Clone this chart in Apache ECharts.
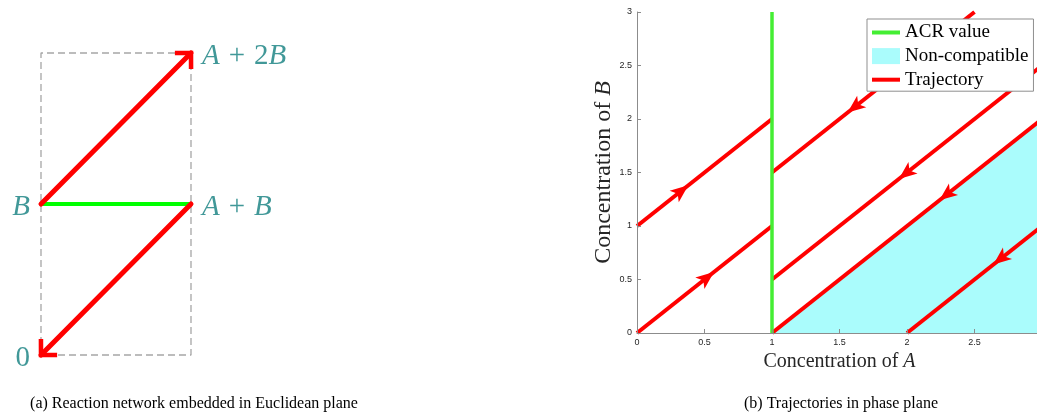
<!DOCTYPE html>
<html><head><meta charset="utf-8">
<script src="https://cdn.jsdelivr.net/npm/echarts@6/dist/echarts.min.js"></script>
<style>html,body{margin:0;padding:0;background:#fff}#c{width:1037px;height:413px}</style>
</head><body><div id="c"></div>
<script>
// ---------- panel (a): reaction network in the (A, B) lattice ----------
const nodeNames = ['0', 'B', 'A+B', 'A+2B'];
const nodeA = [0, 0, 1, 1];
const nodeB = [0, 1, 1, 2];
const reactionEdges = [['B', 'A+2B'], ['A+B', '0']];
const acrEdges = [['B', 'A+B']];

// ---------- panel (b): phase plane ----------
const xTicks = [0, 0.5, 1, 1.5, 2, 2.5, 3];
const yTicks = [0, 0.5, 1, 1.5, 2, 2.5, 3];
const acrValue = 1;
const trajStart = [[0, 0], [0, 1], [1, 0.5], [1, 1.5], [1, 0], [2, 0]];
const trajEnd = [[1, 1], [1, 2], [3, 2.5], [2.5, 3], [3, 2], [3, 1]];
const arrowPos = [[0.57, 0.57], [0.38, 1.38], [1.94, 1.44], [1.56, 2.06], [2.24, 1.24], [2.64, 0.64]];
const arrowDir = [1, 1, -1, -1, -1, -1];
const nonCompatible = [[1, 0], [3, 2]];
const captions = ['(a) Reaction network embedded in Euclidean plane', '(b) Trajectories in phase plane'];

const serif = 'Liberation Serif';
const teal = '#117e7e';
const red = '#ff0000';
const cyan = '#aafcfc';
const green = '#44ee33';

const idx = n => nodeNames.indexOf(n);
const pt = n => [nodeA[idx(n)], nodeB[idx(n)]];
const minA = Math.min(...nodeA), maxA = Math.max(...nodeA);
const minB = Math.min(...nodeB), maxB = Math.max(...nodeB);
const boxPts = [[minA, minB], [minA, maxB], [maxA, maxB], [maxA, minB], [minA, minB]];

const chevron = 'path://M0,-3.18L12.89,9.71L9.71,12.89L0,3.18L-9.71,12.89L-12.89,9.71ZM0,-12.89L0.01,-12.89Z';

function nodeLabel(name) {
  return name.split('').map(ch => ch === '+' ? '{o|+}' : (/[A-Z]/.test(ch) ? '{i|' + ch + '}' : '{n|' + ch + '}')).join('');
}

const chart = echarts.init(document.getElementById('c'), null, {renderer: 'canvas'});

const trajSeries = trajStart.map((s, i) => ({
  type: 'line', name: 'Trajectory', xAxisIndex: 0, yAxisIndex: 0,
  data: [s, trajEnd[i]], symbol: 'none', silent: true,
  lineStyle: {color: red, width: 4}, itemStyle: {color: red}, z: 3
}));

const option = {
  backgroundColor: '#fff',
  animation: false,
  grid: [
    {left: 637, top: 12, width: 405, height: 321, outerBoundsMode: 'none'},
    {left: 41, top: 53, width: 150, height: 302, outerBoundsMode: 'none'}
  ],
  xAxis: [
    {
      type: 'value', gridIndex: 0, min: xTicks[0], max: xTicks[xTicks.length - 1], interval: xTicks[1] - xTicks[0],
      axisLine: {show: true, lineStyle: {color: '#8c8c8c', width: 1}},
      axisTick: {show: true, inside: true, length: 4, lineStyle: {color: '#8c8c8c'}},
      axisLabel: {color: '#262626', fontSize: 9, fontFamily: 'Liberation Sans', margin: 5, showMaxLabel: false},
      splitLine: {show: false},
      name: '{r|Concentration of }{i|A}', nameLocation: 'middle', nameGap: 17,
      nameTextStyle: {rich: {
        r: {fontFamily: serif, fontSize: 20, color: '#262626'},
        i: {fontFamily: serif, fontStyle: 'italic', fontSize: 20, color: '#262626'}}},
      z: 10
    },
    {type: 'value', gridIndex: 1, min: minA, max: maxA, show: false}
  ],
  yAxis: [
    {
      type: 'value', gridIndex: 0, min: yTicks[0], max: yTicks[yTicks.length - 1], interval: yTicks[1] - yTicks[0],
      axisLine: {show: true, lineStyle: {color: '#8c8c8c', width: 1}},
      axisTick: {show: true, inside: true, length: 4, lineStyle: {color: '#8c8c8c'}},
      axisLabel: {color: '#262626', fontSize: 9, fontFamily: 'Liberation Sans', margin: 5},
      splitLine: {show: false},
      name: '{r|Concentration of }{i|B}', nameLocation: 'middle', nameGap: 15, nameRotate: 90,
      nameTextStyle: {rich: {
        r: {fontFamily: serif, fontSize: 24, color: '#262626'},
        i: {fontFamily: serif, fontStyle: 'italic', fontSize: 24, color: '#262626'}}},
      z: 10
    },
    {type: 'value', gridIndex: 1, min: minB, max: maxB, show: false}
  ],
  legend: {
    orient: 'vertical', left: 867, top: 19, padding: [4, 5, 2, 5],
    itemWidth: 28, itemHeight: 16, itemGap: 4.6, symbolKeepAspect: true,
    borderColor: '#8f8f8f', borderWidth: 1, backgroundColor: '#fff',
    selectedMode: false, z: 10,
    itemStyle: {borderWidth: 0},
    textStyle: {fontFamily: serif, fontSize: 19, color: '#000'},
    data: [
      {name: 'ACR value', icon: 'path://M0,0H28V4H0Z'},
      {name: 'Non-compatible', icon: 'rect', itemStyle: {color: cyan}},
      {name: 'Trajectory', icon: 'path://M0,0H28V4H0Z'}
    ]
  },
  graphic: captions.map((t, i) => ({
    type: 'text', x: i === 0 ? 194 : 841, y: 404,
    style: {text: t, font: '16px "Liberation Serif"', fill: '#000',
      align: 'center', verticalAlign: 'middle', textAlign: 'center', textVerticalAlign: 'middle'}
  })),
  series: [
    {
      type: 'line', name: 'Non-compatible', xAxisIndex: 0, yAxisIndex: 0, data: nonCompatible,
      symbol: 'none', silent: true, lineStyle: {width: 0, color: cyan}, itemStyle: {color: cyan},
      areaStyle: {color: cyan, opacity: 1}, z: 1
    },
    ...trajSeries,
    {
      type: 'line', name: 'ACR value', xAxisIndex: 0, yAxisIndex: 0,
      data: [[acrValue, yTicks[0]], [acrValue, yTicks[yTicks.length - 1]]], symbol: 'none', silent: true,
      lineStyle: {color: green, width: 3.5}, itemStyle: {color: green}, z: 4
    },
    {
      id: 'arrows', type: 'scatter', name: 'arrows', xAxisIndex: 0, yAxisIndex: 0,
      data: arrowPos, symbol: 'arrow', symbolSize: [11, 18], silent: true,
      itemStyle: {color: red, opacity: 1}, z: 5
    },
    // panel (a)
    {
      type: 'line', name: 'box', xAxisIndex: 1, yAxisIndex: 1, data: boxPts, symbol: 'none', silent: true,
      clip: false, lineStyle: {color: '#a6a6a6', width: 1.3, type: [7, 4]}, z: 1
    },
    {
      type: 'lines', name: 'acrEdge', coordinateSystem: 'cartesian2d', xAxisIndex: 1, yAxisIndex: 1,
      data: acrEdges.map(e => ({coords: [pt(e[0]), pt(e[1])]})), symbol: 'none', silent: true, clip: false,
      lineStyle: {color: '#00ff00', width: 4, opacity: 1}, z: 3
    },
    {
      type: 'lines', name: 'reactions', coordinateSystem: 'cartesian2d', xAxisIndex: 1, yAxisIndex: 1,
      data: reactionEdges.map(e => ({coords: [pt(e[0]), pt(e[1])]})), silent: true, clip: false,
      symbol: ['none', chevron], symbolSize: 26,
      lineStyle: {color: red, width: 5, opacity: 1, cap: 'round'}, itemStyle: {color: red}, z: 4
    },
    {
      type: 'scatter', name: 'nodes', xAxisIndex: 1, yAxisIndex: 1, symbolSize: 0, silent: true,
      data: nodeNames.map((n, i) => ({value: [nodeA[i], nodeB[i]], name: n,
        label: {position: nodeA[i] === minA ? 'left' : 'right'}})),
      label: {
        show: true, distance: 11, offset: [0, 3], formatter: p => nodeLabel(p.name),
        rich: {
          i: {fontFamily: serif, fontStyle: 'italic', fontSize: 29, color: teal},
          n: {fontFamily: serif, fontSize: 29, color: teal},
          o: {fontFamily: serif, fontSize: 29, color: teal, padding: [0, 9, 0, 9]}
        }
      },
      z: 6
    }
  ]
};

chart.setOption(option);

const rot = arrowPos.map((p, i) => {
  const a = chart.convertToPixel({gridIndex: 0}, trajStart[i]);
  const b = chart.convertToPixel({gridIndex: 0}, trajEnd[i]);
  let ang = Math.atan2(-(b[1] - a[1]), b[0] - a[0]) * 180 / Math.PI;
  if (arrowDir[i] < 0) ang += 180;
  return ang - 90;
});
chart.setOption({series: [{id: 'arrows', data: arrowPos.map((p, i) => ({value: p, symbolRotate: rot[i]}))}]});
</script>
</body></html>
